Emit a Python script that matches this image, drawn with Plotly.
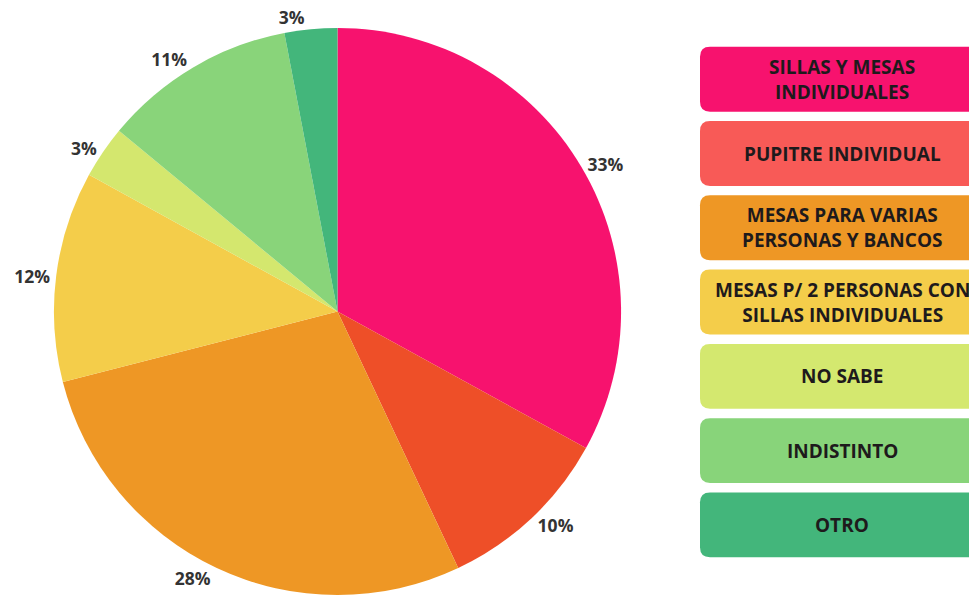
import plotly.graph_objects as go

# Survey answers: preferred classroom furniture
categories = [
    "SILLAS Y MESAS INDIVIDUALES",
    "PUPITRE INDIVIDUAL",
    "MESAS PARA VARIAS PERSONAS Y BANCOS",
    "MESAS P/ 2 PERSONAS CON SILLAS INDIVIDUALES",
    "NO SABE",
    "INDISTINTO",
    "OTRO",
]
legend_lines = [
    ["SILLAS Y MESAS", "INDIVIDUALES"],
    ["PUPITRE INDIVIDUAL"],
    ["MESAS PARA VARIAS", "PERSONAS Y BANCOS"],
    ["MESAS P/ 2 PERSONAS CON", "SILLAS INDIVIDUALES"],
    ["NO SABE"],
    ["INDISTINTO"],
    ["OTRO"],
]
percentages = [33, 10, 28, 12, 3, 11, 3]

slice_colors = ["#F7126E", "#EE4F28", "#EE9725", "#F4CD4A", "#D4E76E", "#89D47A", "#43B67B"]
legend_colors = ["#F7126E", "#F85A57", "#EE9725", "#F4CD4A", "#D4E86F", "#88D47A", "#43B67B"]

W, H = 969, 611

fig = go.Figure()
fig.add_trace(go.Pie(
    labels=categories,
    values=percentages,
    sort=False,
    direction="clockwise",
    rotation=0,
    marker=dict(colors=slice_colors, line=dict(width=0)),
    texttemplate="%{value}%",
    textposition="outside",
    textfont=dict(family="Open Sans", size=17.5, color="#333333", weight="bold"),
    showlegend=False,
    hoverinfo="label+percent",
    domain=dict(x=[53 / W, 622 / W], y=[1 - 595 / H, 1 - 26 / H]),
))


def px_x(v):
    return v / W


def px_y(v):
    return 1 - v / H


def rounded_box(x0, y0, x1, y1, r):
    pts = [
        f"M {px_x(x0 + r)} {px_y(y0)}",
        f"L {px_x(x1 - r)} {px_y(y0)}",
        f"Q {px_x(x1)} {px_y(y0)} {px_x(x1)} {px_y(y0 + r)}",
        f"L {px_x(x1)} {px_y(y1 - r)}",
        f"Q {px_x(x1)} {px_y(y1)} {px_x(x1 - r)} {px_y(y1)}",
        f"L {px_x(x0 + r)} {px_y(y1)}",
        f"Q {px_x(x0)} {px_y(y1)} {px_x(x0)} {px_y(y1 - r)}",
        f"L {px_x(x0)} {px_y(y0 + r)}",
        f"Q {px_x(x0)} {px_y(y0)} {px_x(x0 + r)} {px_y(y0)}",
        "Z",
    ]
    return " ".join(pts)


# Legend drawn as rounded colour blocks with centred captions
box_left, box_right = 700, 982
box_h, box_step, first_top = 65, 74.5, 45
for i, (lines, col) in enumerate(zip(legend_lines, legend_colors)):
    top = first_top + i * box_step
    bottom = top + box_h
    fig.add_shape(
        type="path", xref="paper", yref="paper",
        path=rounded_box(box_left, top, box_right, bottom, 10),
        fillcolor=col, line=dict(width=0), layer="below",
    )
    fig.add_annotation(
        x=px_x((box_left + box_right) / 2 + 1), y=px_y((top + bottom) / 2),
        xref="paper", yref="paper", xanchor="center", yanchor="middle",
        text="<br>".join(lines), showarrow=False, align="center",
        font=dict(family="Open Sans", size=19, color="#1E1A1C", weight="bold"),
    )

fig.update_layout(
    width=W, height=H,
    margin=dict(l=0, r=0, t=0, b=0),
    paper_bgcolor="white",
    plot_bgcolor="white",
)

fig.write_html("out.html")
